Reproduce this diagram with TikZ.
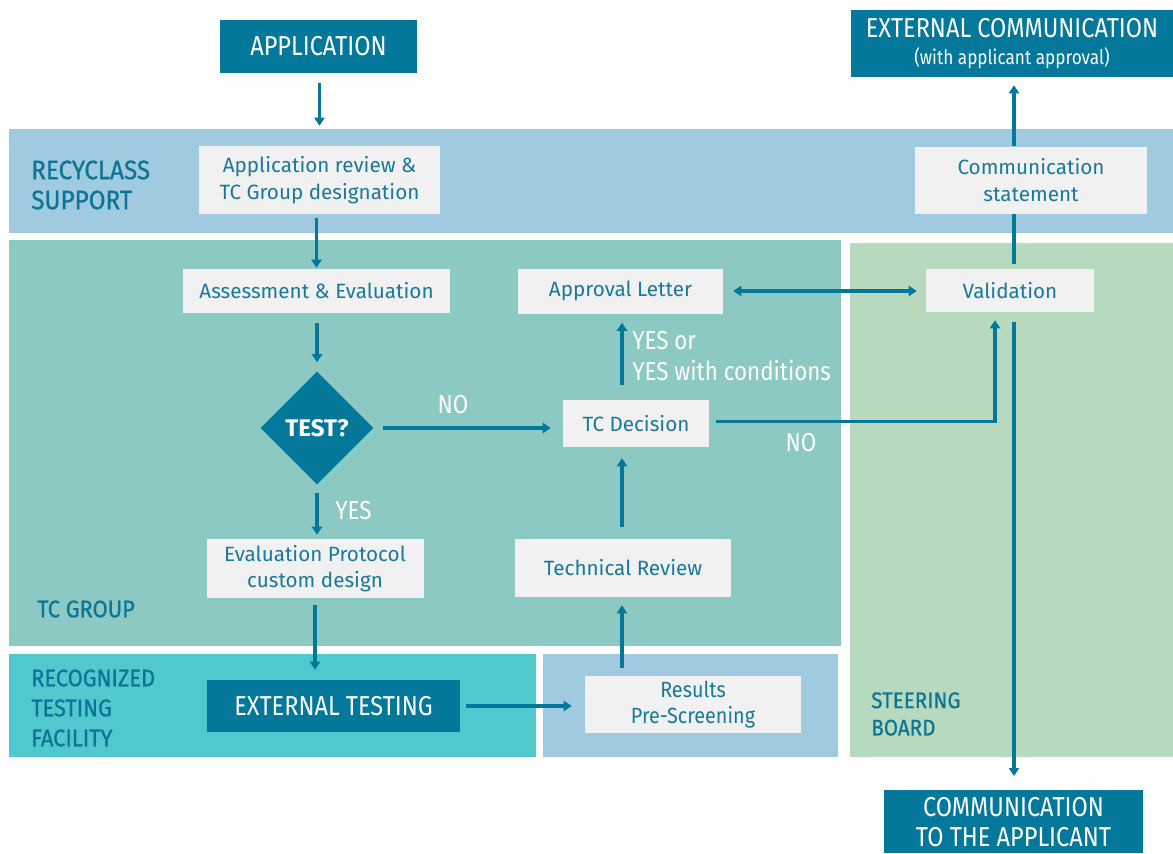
\documentclass[tikz,border=0pt]{standalone}
\usepackage{fontspec}
\setmainfont{Fira Sans}
\newfontfamily\condfont[FakeStretch=0.86]{Fira Sans}
\newfontfamily\resfont[FakeStretch=0.9]{Fira Sans}
\newfontfamily\labfont[FakeStretch=0.91,FakeBold=0.6]{Fira Sans}
\usetikzlibrary{shapes.geometric,arrows.meta}
\definecolor{dark}{HTML}{03789B}
\definecolor{txtblue}{HTML}{19799A}
\definecolor{labblue}{HTML}{0C7494}
\definecolor{bandblue}{HTML}{9FCADF}
\definecolor{bandteal}{HTML}{8CC9C3}
\definecolor{bandgreen}{HTML}{B7DABF}
\definecolor{bandcyan}{HTML}{4FC9CE}
\definecolor{boxgray}{HTML}{F1F1F1}
\tikzset{
  wh/.style 2 args={minimum width=#1*0.75pt, minimum height=#2*0.75pt},
  box/.style={fill=boxgray, text=txtblue, font=\fontsize{15.5}{20}\selectfont, align=center, inner sep=0pt},
  headbox/.style={fill=dark, text=white, font=\condfont\fontsize{20.5}{22.5}\selectfont, align=center, inner sep=0pt},
  band/.style={inner sep=0pt, outer sep=0pt},
  bandlab/.style={text=labblue, font=\labfont\fontsize{18}{22.5}\selectfont, align=left, anchor=west, inner sep=0pt},
  wlab/.style={text=white, font=\condfont\fontsize{19.5}{23}\selectfont, align=left, inner sep=0pt},
  arr/.style={draw=dark, line width=2.3pt, -{Triangle[length=6pt,width=7.5pt]}},
  plain/.style={draw=dark, line width=2.3pt},
  sh/.style 2 args={shorten <=#1*0.75pt, shorten >=#2*0.75pt}
}
\begin{document}
\begin{tikzpicture}[x=0.75pt,y=-0.75pt]
\useasboundingbox (0,0) rectangle (1173,853);
% bands
\node[band, fill=bandblue, wh={1164}{104}, anchor=north west] (bsupp) at (9,129) {};
\node[band, fill=bandteal, wh={832}{406}, anchor=north west] (btc) at (9,240) {};
\node[band, fill=bandgreen, wh={323}{514}, anchor=north west] (bsteer) at (850,243) {};
\node[band, fill=bandcyan, wh={527}{103}, anchor=north west] (brtf) at (9,654) {};
\node[band, fill=bandblue, wh={295}{103}, anchor=north west] (bpre) at (543,654) {};
% band labels
\node[bandlab, font=\labfont\fontsize{20}{22.5}\selectfont] (lsupp) at (31,185) {RECYCLASS\\SUPPORT};
\node[bandlab] (ltc) at (37,609) {TC GROUP};
\node[bandlab] (lrtf) at (31,708) {RECOGNIZED\\TESTING\\FACILITY};
\node[bandlab, font=\labfont\fontsize{17}{20.5}\selectfont] (lsteer) at (871,714) {STEERING\\BOARD};
% boxes
\node[headbox, wh={197}{53}] (app) at (318.5,46.5) {APPLICATION};
\node[box, wh={241}{68}] (rev) at (319.5,180) {Application review \&\\TC Group designation};
\node[box, wh={267}{44}] (assess) at (316.5,291) {Assessment \& Evaluation};
\node[diamond, fill=dark, text=white, wh={113}{113}, inner sep=0pt, font=\bfseries\fontsize{18}{20}\selectfont] (test) at (317,428) {TEST?};
\node[box, wh={217}{59}] (evalp) at (315,568.5) {Evaluation Protocol\\custom design};
\node[headbox, wh={253}{52}] (ext) at (333.5,706) {EXTERNAL TESTING};
\node[box, wh={216}{57}, font=\resfont\fontsize{16.5}{20}\selectfont] (res) at (693,704.5) {Results\\Pre-Screening};
\node[box, wh={216}{58}] (tech) at (623,568) {Technical Review};
\node[box, wh={146}{47}] (dec) at (636,423.5) {TC Decision};
\node[box, wh={205}{45}] (appr) at (620.5,291) {Approval Letter};
\node[box, wh={168}{43}] (val) at (1010,290.5) {Validation};
\node[box, wh={232}{67}] (cstat) at (1031,180) {Communication\\statement};
\node[headbox, wh={322}{67}, font=\condfont\fontsize{20.5}{20}\selectfont] (extc) at (1012,43.5) {EXTERNAL COMMUNICATION\\{\fontsize{15}{16}\selectfont (with applicant approval)}};
\node[headbox, wh={259}{63}, anchor=north] (capp) at (1013.5,790) {COMMUNICATION\\TO THE APPLICANT};
% helper coordinates
\coordinate (vx) at (1014,0);
\coordinate (nox) at (995,0);
\coordinate (tx) at (622,0);
% connectors
\draw[arr, sh={10}{20}] (app.south -| rev.north) -- (rev.north);
\draw[arr, sh={4}{1}] (rev.south -| assess.north) -- (assess.north);
\draw[arr, sh={10}{9}] (assess.south -| test.north) -- (test.north);
\draw[arr, sh={9}{12}] (test.east) -- (test.east -| dec.west);
\draw[arr, sh={8}{4}] (test.south) -- (test.south |- evalp.north);
\draw[arr, sh={7}{10}] (evalp.south) -- (evalp.south |- ext.north);
\draw[arr, sh={6}{13}] (ext.east) -- (ext.east -| res.west);
\draw[arr, sh={8}{8}] (tx |- res.north) -- (tx |- tech.south);
\draw[arr, sh={12}{11}] (tx |- tech.north) -- (tx |- dec.south);
\draw[arr, sh={15}{9}] (tx |- dec.north) -- (tx |- appr.south);
\draw[draw=dark, line width=2.3pt, {Triangle[length=6pt,width=7.5pt]}-{Triangle[length=6pt,width=7.5pt]}, sh={10}{9}] (appr.east) -- (appr.east -| val.west);
\draw[arr, sh={7}{8}] ([yshift=1.5pt]dec.east) -- ([yshift=1.5pt]dec.east -| nox) -- (nox |- val.south);
\draw[arr, sh={10}{14}] (vx |- val.south) -- (vx |- capp.north);
\draw[plain, sh={5}{0}] (vx |- val.north) -- (vx |- cstat.south);
\draw[arr, sh={0}{8}] (vx |- cstat.north) -- (vx |- extc.south);
% labels
\node[wlab] (lno1) at (453,405) {NO};
\node[wlab, anchor=west] (lyes) at (335,511) {YES};
\node[wlab, anchor=west] (lyc) at (632,356) {YES or\\YES with conditions};
\node[wlab] (lno2) at (801,443) {NO};
\end{tikzpicture}
\end{document}
